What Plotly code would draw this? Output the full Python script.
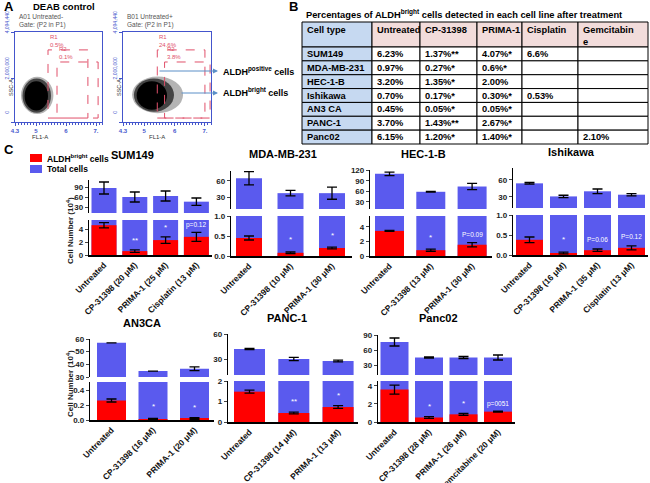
import plotly.graph_objects as go

W, H = 650, 483
FONT = "Liberation Sans, Arial, sans-serif"
BLUE = "#5a5aee"
RED = "#ff0000"
FCS_BLUE = "#4455cc"
GATE = "#e0506a"

def pxx(p):
    return p / W

def pxy(p):
    return 1 - p / H

# ---------------- DATA ----------------
# Panel A: flow cytometry gates (FL1-A log decade, SSC-A)
fcs_titles = ["A01 Untreated-<br>Gate: (P2 in P1)", "B01 Untreated+<br>Gate: (P2 in P1)"]
fcs_x_ticks = [4.3, 5, 6, 7]
fcs_x_ticktext = ["4.3", "5", "6", "7."]
fcs_y_ticks = [0, 2000000, 4094440]
fcs_y_ticktext = ["0", "2,000,000", "4,094,440"]
gate_r1_pct = ["0.5%", "24.6%"]
gate_r2_pct = ["0.1%", "3.8%"]
gate_r1_x = [[5.40, 6.73], [5.43, 7.00]]
gate_r2_x = [[5.70, 7.07], [5.67, 7.17]]
gate_r1_y = [180000, 3280000]
gate_r2_y = [180000, 2730000]
cloud_core_x = [[4.62, 5.40], [4.75, 5.75]]
cloud_core_y = [[520000, 1850000], [560000, 1850000]]
cloud_mid_x = [[4.55, 5.50], [4.66, 5.98]]
cloud_mid_y = [[420000, 1980000], [470000, 1980000]]
cloud_halo_x = [[4.50, 5.58], [4.60, 6.28]]
cloud_halo_y = [[360000, 2060000], [400000, 2070000]]

# Panel B: table
table_header = ["Cell type", "Untreated", "CP-31398", "PRIMA-1", "Cisplatin", "Gemcitabin<br>e"]
cell_types = ["SUM149", "MDA-MB-231", "HEC-1-B", "Ishikawa", "AN3 CA", "PANC-1", "Panc02"]
pct_untreated = ["6.23%", "0.97%", "3.20%", "0.70%", "0.45%", "3.70%", "6.15%"]
pct_cp31398 = ["1.37%**", "0.27%*", "1.35%*", "0.17%*", "0.05%*", "1.43%**", "1.20%*"]
pct_prima1 = ["4.07%*", "0.6%*", "2.00%", "0.30%*", "0.05%*", "2.67%*", "1.40%*"]
pct_cisplatin = ["6.6%", "", "", "0.53%", "", "", ""]
pct_gemcitabine = ["", "", "", "", "", "", "2.10%"]

# Panel C: cell numbers (10^4)
sum149_labels = ["Untreated", "CP-31398 (20 μM)", "PRIMA-1 (25 μM)", "Cisplatin (13 μM)"]
sum149_total = [87, 60, 63, 46]
sum149_total_err = [18, 15, 15, 11]
sum149_bright = [4.6, 0.6, 2.3, 2.8]
sum149_bright_err = [0.4, 0.2, 0.5, 0.7]
sum149_sig = ["", "**", "*", "p=0.12"]
sum149_sig_y = [0, 2.3, 4.2, 4.6]

mda_labels = ["Untreated", "CP-31398 (10 μM)", "PRIMA-1 (30 μM)"]
mda_total = [65, 38, 38]
mda_total_err = [12, 5, 11]
mda_bright = [0.45, 0.08, 0.20]
mda_bright_err = [0.05, 0.02, 0.02]
mda_sig = ["", "*", "*"]
mda_sig_y = [0, 0.42, 0.5]

hec_labels = ["Untreated", "CP-31398 (13 μM)", "PRIMA-1 (30 μM)"]
hec_total = [110, 59, 74]
hec_total_err = [5, 1, 9]
hec_bright = [3.45, 0.8, 1.55]
hec_bright_err = [0.07, 0.15, 0.3]
hec_sig = ["", "*", "P=0.09"]
hec_sig_y = [0, 2.6, 3.0]

ish_labels = ["Untreated", "CP-31398 (16 μM)", "PRIMA-1 (35 μM)", "Cisplatin (13 μM)"]
ish_total = [54, 31, 40, 34]
ish_total_err = [1.5, 2, 4, 2]
ish_bright = [0.38, 0.05, 0.12, 0.18]
ish_bright_err = [0.07, 0.02, 0.03, 0.05]
ish_sig = ["", "*", "P=0.06", "P=0.12"]
ish_sig_y = [0, 0.4, 0.38, 0.47]

an3_labels = ["Untreated", "CP-31398 (16 μM)", "PRIMA-1 (20 μM)"]
an3_total = [57, 34.7, 36.5]
an3_total_err = [0, 0, 1.5]
an3_bright = [0.26, 0.01, 0.02]
an3_bright_err = [0.02, 0.01, 0.01]
an3_sig = ["", "*", "*"]
an3_sig_y = [0, 0.18, 0.17]

panc1_labels = ["Untreated", "CP-31398 (14 μM)", "PRIMA-1 (13 μM)"]
panc1_total = [42, 30, 27.6]
panc1_total_err = [0.8, 2, 1]
panc1_bright = [1.48, 0.44, 0.73]
panc1_bright_err = [0.07, 0.04, 0.07]
panc1_sig = ["", "**", "*"]
panc1_sig_y = [0, 1.02, 1.3]

panc02_labels = ["Untreated", "CP-31398 (28 μM)", "PRIMA-1 (26 μM)", "Gemcitabine (20 μM)"]
panc02_total = [76, 45, 45, 45]
panc02_total_err = [8, 1, 2, 5]
panc02_bright = [3.6, 0.5, 0.85, 1.15]
panc02_bright_err = [0.5, 0.1, 0.1, 0.05]
panc02_sig = ["", "*", "*", "p=0051"]
panc02_sig_y = [0, 1.75, 2.0, 2.0]

legend_names = ["ALDH<sup>bright</sup> cells", "Total cells"]

# ---------------- LAYOUT SPEC (pixel geometry) ----------------
charts = [
    dict(title="SUM149", tpos=(132, 155), labels=sum149_labels, total=sum149_total, total_err=sum149_total_err,
         bright=sum149_bright, bright_err=sum149_bright_err, sig=sum149_sig, sig_y=sum149_sig_y,
         L=89, R=212, c0=104, s=30.8, w=25, top=(180, 213), bot=(220, 255),
         trange=[12, 111], tticks=[30, 60, 90], brange=[0, 5.4], bticks=[0, 2, 4], bfmt="d"),
    dict(title="MDA-MB-231", tpos=(283, 154), labels=mda_labels, total=mda_total, total_err=mda_total_err,
         bright=mda_bright, bright_err=mda_bright_err, sig=mda_sig, sig_y=mda_sig_y,
         L=231, R=352, c0=249, s=41.5, w=26, top=(171, 209), bot=(216, 256),
         trange=[9.4, 78], tticks=[30, 60], brange=[0, 1.0], bticks=[0, 0.5, 1.0], bfmt=".1f"),
    dict(title="HEC-1-B", tpos=(424, 154), labels=hec_labels, total=hec_total, total_err=hec_total_err,
         bright=hec_bright, bright_err=hec_bright_err, sig=hec_sig, sig_y=hec_sig_y,
         L=370, R=492, c0=389.5, s=41.3, w=29, top=(170, 209), bot=(216, 256),
         trange=[10, 121], tticks=[30, 60, 90, 120], brange=[0, 5.5], bticks=[0, 2, 4], bfmt="d"),
    dict(title="Ishikawa", tpos=(571, 152), labels=ish_labels, total=ish_total, total_err=ish_total_err,
         bright=ish_bright, bright_err=ish_bright_err, sig=ish_sig, sig_y=ish_sig_y,
         L=513, R=648, c0=529.5, s=34, w=27, top=(168, 208), bot=(215, 255),
         trange=[10.6, 81], tticks=[30, 60], brange=[0, 1.0], bticks=[0, 0.5, 1.0], bfmt=".1f"),
    dict(title="AN3CA", tpos=(142, 323), labels=an3_labels, total=an3_total, total_err=an3_total_err,
         bright=an3_bright, bright_err=an3_bright_err, sig=an3_sig, sig_y=an3_sig_y,
         L=90, R=214, c0=111.5, s=41.5, w=29, top=(339, 377), bot=(382, 420),
         trange=[30, 60], tticks=[30, 40, 50, 60], brange=[0, 0.507], bticks=[0, 0.2, 0.4], bfmt=".1f"),
    dict(title="PANC-1", tpos=(287, 318), labels=panc1_labels, total=panc1_total, total_err=panc1_total_err,
         bright=panc1_bright, bright_err=panc1_bright_err, sig=panc1_sig, sig_y=panc1_sig_y,
         L=228, R=358, c0=249.5, s=44.3, w=31, top=(334, 375), bot=(381, 422),
         trange=[10.8, 60], tticks=[30, 60], brange=[0, 2.0], bticks=[0, 1, 2], bfmt="d"),
    dict(title="Panc02", tpos=(438, 318), labels=panc02_labels, total=panc02_total, total_err=panc02_total_err,
         bright=panc02_bright, bright_err=panc02_bright_err, sig=panc02_sig, sig_y=panc02_sig_y,
         L=378, R=515, c0=394.5, s=34.5, w=28, top=(335, 375), bot=(381, 422),
         trange=[10, 90], tticks=[30, 60, 90], brange=[0, 4.55], bticks=[0, 2, 4], bfmt="d"),
]

fig = go.Figure()
layout = dict(
    width=W, height=H, margin=dict(l=0, r=0, t=0, b=0, autoexpand=False),
    paper_bgcolor="white", plot_bgcolor="rgba(0,0,0,0)", showlegend=False,
    barmode="overlay", font=dict(family=FONT, color="black"),
)
annotations = []
shapes = []

def paper_text(x, y, text, size, xanchor="left", yanchor="middle", color="black", angle=0, align="left"):
    annotations.append(dict(xref="paper", yref="paper", x=pxx(x), y=pxy(y), text=text,
                            showarrow=False, xanchor=xanchor, yanchor=yanchor, align=align,
                            textangle=angle, font=dict(size=size, color=color)))

# ---------------- PANEL A ----------------
fcs_domains = [(15, 102), (123, 211)]
fcs_xtitle_px = [40, 157]
for i, (xl, xr) in enumerate(fcs_domains):
    n = i + 1
    xa = "xaxis" if n == 1 else f"xaxis{n}"
    ya = "yaxis" if n == 1 else f"yaxis{n}"
    xr_ref = "x" if n == 1 else f"x{n}"
    yr_ref = "y" if n == 1 else f"y{n}"
    layout[xa] = dict(domain=[pxx(xl), pxx(xr)], range=[4.3, 7.2], anchor=yr_ref, automargin=False,
                      showline=True, linecolor=FCS_BLUE, linewidth=1.2, mirror=True,
                      showgrid=False, zeroline=False, ticks="outside", ticklen=3, tickcolor=FCS_BLUE,
                      tickvals=fcs_x_ticks, ticktext=fcs_x_ticktext,
                      tickfont=dict(size=6, color=FCS_BLUE, weight="bold"),
                      minor=dict(ticks="outside", dtick=0.1, ticklen=2, tickcolor=FCS_BLUE))
    layout[ya] = dict(domain=[pxy(122), pxy(32)], range=[0, 4094440], anchor=xr_ref, automargin=False,
                      showline=True, linecolor=FCS_BLUE, linewidth=1.2, mirror=True,
                      showgrid=False, zeroline=False, ticks="outside", ticklen=3, tickcolor=FCS_BLUE,
                      tickvals=fcs_y_ticks, ticktext=fcs_y_ticktext, tickangle=-90,
                      ticklabelshift=-9, tickfont=dict(size=5, color=FCS_BLUE))
    fig.add_trace(go.Scatter(x=[4.3], y=[0], mode="markers", marker=dict(opacity=0),
                             xaxis=xr_ref, yaxis=yr_ref, showlegend=False, hoverinfo="skip"))
    for cx, cy, col in ((cloud_halo_x, cloud_halo_y, "rgba(40,40,40,0.35)"),
                        (cloud_mid_x, cloud_mid_y, "rgba(20,20,20,0.7)"),
                        (cloud_core_x, cloud_core_y, "black")):
        shapes.append(dict(type="circle", xref=xr_ref, yref=yr_ref,
                           x0=cx[i][0], x1=cx[i][1], y0=cy[i][0], y1=cy[i][1],
                           fillcolor=col, line=dict(width=0), layer="above"))
    for gx, gy in ((gate_r1_x[i], gate_r1_y), (gate_r2_x[i], gate_r2_y)):
        shapes.append(dict(type="rect", xref=xr_ref, yref=yr_ref, x0=gx[0], x1=gx[1],
                           y0=gy[0], y1=gy[1], line=dict(color=GATE, width=1, dash="dash"),
                           layer="above"))
    annotations.append(dict(xref=xr_ref, yref=yr_ref, x=gate_r1_x[i][0], y=gate_r1_y[1],
                            text=f"R1<br>{gate_r1_pct[i]}", showarrow=False, xanchor="left",
                            yanchor="bottom", align="left", font=dict(size=6, color=GATE)))
    annotations.append(dict(xref=xr_ref, yref=yr_ref, x=gate_r2_x[i][0], y=gate_r2_y[1],
                            text=f"R2<br>{gate_r2_pct[i]}", showarrow=False, xanchor="left",
                            yanchor="bottom", align="left", font=dict(size=6, color=GATE)))
    paper_text(xl + 2, 11, fcs_titles[i], 6.5, yanchor="top", color="#555")
    paper_text(fcs_xtitle_px[i], 137, "FL1-A", 6, xanchor="center", color="#333")
    paper_text(xl - 4, 88, "SSC-A", 5.5, xanchor="center", color="#333", angle=-90)

paper_text(2, 7, "<b>A</b>", 13)
paper_text(31, 6, "<b>DEAB control</b>", 9.5)
for ya_px, x_tail in ((71, 158), (93, 180)):
    annotations.append(dict(xref="paper", yref="paper", x=pxx(218), y=pxy(ya_px), text="",
                            showarrow=True, axref="pixel", ayref="pixel", ax=x_tail - 218, ay=0,
                            arrowhead=2, arrowsize=1, arrowwidth=1, arrowcolor="#5b8fc7"))
paper_text(221, 71, "<b>ALDH<sup>positive</sup> cells</b>", 9)
paper_text(221, 92, "<b>ALDH<sup>bright</sup> cells</b>", 9)

# ---------------- PANEL B (table drawn with shapes + text) ----------------
paper_text(287, 7, "<b>B</b>", 13)
paper_text(304, 14, "<b>Percentages of ALDH<sup>bright</sup> cells detected in each cell line after treatment</b>", 9.3)
LB = "#c6d9f1"
PK = "#f2dcdb"
col_edges = [302, 372, 420, 477, 522, 578, 648]
header_rows = (22, 47)
row_h = (144 - 47) / 7
cols = [cell_types, pct_untreated, pct_cp31398, pct_prima1, pct_cisplatin, pct_gemcitabine]
for j in range(6):
    x0, x1 = col_edges[j], col_edges[j + 1]
    shapes.append(dict(type="rect", xref="paper", yref="paper", x0=pxx(x0), x1=pxx(x1),
                       y0=pxy(header_rows[1]), y1=pxy(header_rows[0]),
                       fillcolor=LB if j == 0 else PK, line=dict(color="black", width=1)))
    paper_text(x0 + 3, header_rows[0] + 1, f"<b>{table_header[j]}</b>", 9.3, yanchor="top")
    for r, val in enumerate(cols[j]):
        y0 = 47 + r * row_h
        shapes.append(dict(type="rect", xref="paper", yref="paper", x0=pxx(x0), x1=pxx(x1),
                           y0=pxy(y0 + row_h), y1=pxy(y0),
                           fillcolor=LB if j == 0 else "white", line=dict(color="black", width=1)))
        if val:
            paper_text(x0 + 3, y0 + row_h / 2, f"<b>{val}</b>", 9.3)

# ---------------- PANEL C ----------------
paper_text(2, 150, "<b>C</b>", 13)
for name, col, yc in ((legend_names[0], RED, 158), (legend_names[1], BLUE, 169)):
    shapes.append(dict(type="rect", xref="paper", yref="paper", x0=pxx(30), x1=pxx(42),
                       y0=pxy(yc + 4), y1=pxy(yc - 4), fillcolor=col, line=dict(width=0)))
    paper_text(45, yc, f"<b>{name}</b>", 8.5)

ytick_font = dict(size=8, color="#222", family=FONT, weight="bold")
xtick_font = dict(size=8.5, color="#111", family=FONT, weight="bold")
for k, c in enumerate(charts):
    it = 3 + 2 * k
    ib = 4 + 2 * k
    lo = -(c["c0"] - c["L"]) / c["s"]
    hi = (c["R"] - c["c0"]) / c["s"]
    bw = c["w"] / c["s"]
    layout[f"xaxis{it}"] = dict(domain=[pxx(c["L"]), pxx(c["R"])], range=[lo, hi], anchor=f"y{it}",
                                showline=False, showticklabels=False, ticks="", showgrid=False,
                                zeroline=False, type="category", automargin=False)
    layout[f"yaxis{it}"] = dict(domain=[pxy(c["top"][1]), pxy(c["top"][0])], range=c["trange"],
                                anchor=f"x{it}", showline=True, linecolor="black", linewidth=1.3,
                                ticks="outside", ticklen=3, tickwidth=1, tickvals=c["tticks"],
                                tickfont=ytick_font, showgrid=False, zeroline=False, automargin=False)
    layout[f"xaxis{ib}"] = dict(domain=[pxx(c["L"]), pxx(c["R"])], range=[lo, hi], anchor=f"y{ib}",
                                showline=True, linecolor="black", linewidth=1.5, ticks="",
                                tickangle=-45, tickfont=xtick_font, showgrid=False, zeroline=False,
                                type="category", automargin=False)
    layout[f"yaxis{ib}"] = dict(domain=[pxy(c["bot"][1]), pxy(c["bot"][0])], range=c["brange"],
                                anchor=f"x{ib}", showline=True, linecolor="black", linewidth=1.3,
                                ticks="outside", ticklen=3, tickwidth=1, tickvals=c["bticks"],
                                tickformat=c["bfmt"], tickfont=ytick_font, showgrid=False,
                                zeroline=False, automargin=False)
    err_total = dict(type="data", array=c["total_err"], color="black", thickness=1.3, width=5)
    err_bright = dict(type="data", array=c["bright_err"], color="black", thickness=1.3, width=5)
    fig.add_trace(go.Bar(x=c["labels"], y=c["total"], width=bw, marker=dict(color=BLUE, line=dict(width=0)),
                         error_y=err_total, xaxis=f"x{it}", yaxis=f"y{it}", name=legend_names[1]))
    fig.add_trace(go.Bar(x=c["labels"], y=c["total"], width=bw, marker=dict(color=BLUE, line=dict(width=0)),
                         xaxis=f"x{ib}", yaxis=f"y{ib}", name=legend_names[1]))
    fig.add_trace(go.Bar(x=c["labels"], y=c["bright"], width=bw, marker=dict(color=RED, line=dict(width=0)),
                         error_y=err_bright, xaxis=f"x{ib}", yaxis=f"y{ib}", name=legend_names[0]))
    for lab, txt, yv in zip(c["labels"], c["sig"], c["sig_y"]):
        if txt:
            star = txt.startswith("*")
            annotations.append(dict(xref=f"x{ib}", yref=f"y{ib}", x=lab, y=yv, text=txt,
                                    showarrow=False, font=dict(size=8 if star else 6.5, color="white")))
    paper_text(c["tpos"][0], c["tpos"][1], f"<b>{c['title']}</b>", 11, xanchor="center")

for yc in (231, 384):
    paper_text(70, yc, "<b>Cell Number (10<sup>4</sup>)</b>", 8, xanchor="center", color="#222", angle=-90)

layout["annotations"] = annotations
layout["shapes"] = shapes
fig.update_layout(**layout)
fig.write_html("out.html", config={"displayModeBar": False},
               post_script="document.body.style.margin='0px';")
